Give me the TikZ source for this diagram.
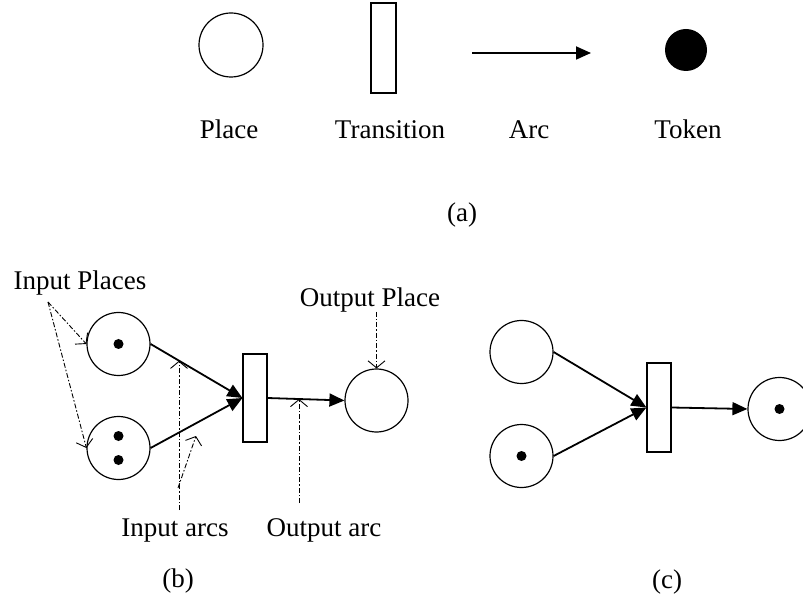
\documentclass[tikz,border=0pt]{standalone}
\usepackage{fontspec}
\setmainfont{Liberation Serif}
\usetikzlibrary{arrows.meta,calc}
\begin{document}
\begin{tikzpicture}[x=1pt,y=-1pt,
  place/.style={circle,draw,line width=1.2pt,minimum size=63pt,inner sep=0pt,fill=white},
  trans/.style={rectangle,draw,line width=1.2pt,minimum width=24pt,minimum height=88pt,inner sep=0pt,fill=white},
  tok/.style={circle,fill=black,minimum size=10pt,inner sep=0pt},
  arcline/.style={line width=1.8pt,-{Triangle[length=15pt,width=13pt]}},
  lbl/.style={anchor=base,font=\fontsize{27}{30}\selectfont,inner sep=0pt},
  note/.style={line width=0.9pt,dash pattern=on 5pt off 2pt on 1.5pt off 2pt,-{Straight Barb[length=7pt,width=17pt]}}]
\useasboundingbox (0,0) rectangle (803,601);
% (a)
\node[place,minimum size=64pt] (pl) at (231,45) {};
\node[trans,minimum width=25pt,minimum height=90pt] (tr) at (383.5,48) {};
\coordinate (a1) at (472,53);
\coordinate (a2) at (591,53);
\draw[arcline] (a1) -- (a2);
\node[circle,fill=black,minimum size=42pt,inner sep=0pt] (tk) at (686,50) {};
\node[lbl] (lpl) at (229,139) {Place};
\node[lbl] (ltr) at (390,139) {Transition};
\node[lbl] (lar) at (529,139) {Arc};
\node[lbl] (ltk) at (688,139) {Token};
\node[lbl] (la) at (462,222) {(a)};
% (b)
\node[place] (p1) at (118.5,344) {};
\node[tok] (p1t) at (118.5,344) {};
\node[place] (p2) at (118.5,448) {};
\node[tok] (p2t1) at (118.5,436) {};
\node[tok] (p2t2) at (118.5,460) {};
\node[trans] (tb) at (255,398) {};
\node[place] (op) at (376.5,400.5) {};
\draw[arcline] (p1.east) -- (tb.west);
\draw[arcline] (p2.east) -- (tb.west);
\draw[arcline] (tb.east) -- (op.west);
\node[lbl] (lip) at (80,290) {Input Places};
\node[lbl] (lop) at (370,307) {Output Place};
\node[lbl] (lia) at (175,536) {Input arcs};
\node[lbl] (loa) at (324,536) {Output arc};
\node[lbl] (lb) at (178,587) {(b)};
\coordinate (ips) at (48,302);
\draw[note] (ips) -- (p1.west);
\draw[note] (ips) -- (p2.west);
\coordinate (ia1s) at (179,510);
\coordinate (ia1e) at ($(p1.east)!0.312!(tb.west)$);
\draw[note] (ia1s) -- (ia1s |- ia1e);
\coordinate (ia2s) at (178,488);
\coordinate (ia2e) at (196,436);
\draw[note] (ia2s) -- (ia2e);
\coordinate (oas) at (299,503);
\coordinate (oae) at ($(tb.east)!0.41!(op.west)$);
\draw[note] (oas) -- (oas |- oae);
\coordinate (ops) at (376.5,312);
\draw[note] (ops) -- (op.north);
% (c)
\node[place] (q1) at (521.5,352) {};
\node[place] (q2) at (521.5,456) {};
\node[tok] (q2t) at (521.5,456) {};
\node[trans,minimum height=89pt] (tc) at (659,407.5) {};
\node[place] (qo) at (779.5,409) {};
\node[tok] (qot) at (779.5,409) {};
\draw[arcline] (q1.east) -- (tc.west);
\draw[arcline] (q2.east) -- (tc.west);
\draw[arcline] (tc.east) -- (qo.west);
\node[lbl] (lc) at (667,588) {(c)};
\end{tikzpicture}
\end{document}
